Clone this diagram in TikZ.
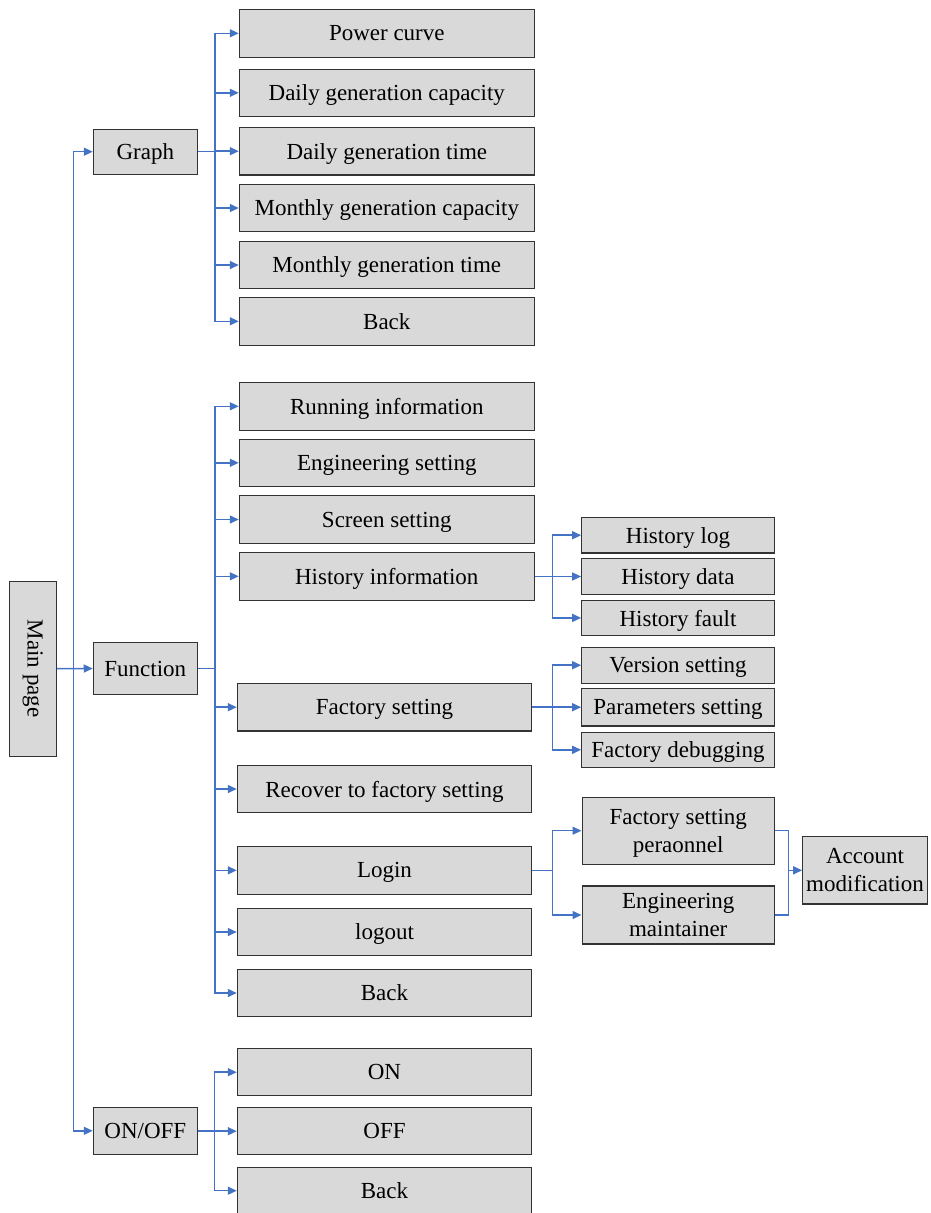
\documentclass[tikz,border=0pt]{standalone}
\usepackage{fontspec}
\setmainfont{Liberation Serif}
\usetikzlibrary{arrows.meta}
\definecolor{boxfill}{HTML}{D9D9D9}
\definecolor{boxdraw}{HTML}{333333}
\definecolor{linkblue}{HTML}{4472C4}
\newcommand\mybox[6]{\node[box, minimum width=#4pt, minimum height=#5pt] (#1) at (#2,#3) {#6};}
\begin{document}
\begin{tikzpicture}[x=1pt,y=-1pt,
  box/.style={draw=boxdraw, fill=boxfill, line width=1.1pt, inner sep=0pt, align=center, text depth=0pt, font=\fontsize{23}{28}\selectfont},
  link/.style={draw=linkblue, line width=1.5pt},
  arr/.style={link, -{Triangle[length=9pt,width=8pt]}}]
\useasboundingbox (0,0) rectangle (930,1213);
% main level
\mybox{mainpage}{32.7}{668.7}{47.3}{174.7}{}
\node[rotate=-90, font=\fontsize{23}{28}\selectfont] (maintext) at (mainpage.center) {Main page};
\mybox{graph}{145.3}{151.7}{104}{44.7}{Graph}
\mybox{function}{145.3}{668.5}{104}{51.6}{Function}
\mybox{onoff}{145.3}{1130.8}{104}{47}{ON/OFF}
% graph children
\mybox{pc}{386.8}{33.3}{295}{47.5}{Power curve}
\mybox{dgc}{386.8}{92.8}{295}{47.5}{Daily generation capacity}
\mybox{dgt}{386.8}{151.2}{295}{47.5}{Daily generation time}
\mybox{mgc}{386.8}{208}{295}{47.5}{Monthly generation capacity}
\mybox{mgt}{386.8}{265}{295}{47.5}{Monthly generation time}
\mybox{gback}{386.8}{321.3}{295}{47.5}{Back}
% function children
\mybox{ri}{386.8}{406.3}{295}{47.5}{Running information}
\mybox{es}{386.8}{462.8}{295}{47.5}{Engineering setting}
\mybox{ss}{386.8}{519.5}{295}{47.5}{Screen setting}
\mybox{hi}{386.8}{576.3}{295}{47.5}{History information}
\mybox{fs}{384.5}{707.2}{294.4}{47.5}{Factory setting}
\mybox{rf}{384.5}{789}{294.4}{47.5}{Recover to factory setting}
\mybox{login}{384.5}{870.3}{294.4}{47.5}{Login}
\mybox{logout}{384.5}{932}{294.4}{47.5}{logout}
\mybox{fback}{384.5}{993}{294.4}{47.5}{Back}
% on/off children
\mybox{on}{384.5}{1072.2}{294.4}{47}{ON}
\mybox{off}{384.5}{1131.2}{294.4}{47}{OFF}
\mybox{oback}{384.5}{1190.7}{294.4}{47}{Back}
% history subs
\mybox{hlog}{678}{535.2}{192.6}{35.5}{History log}
\mybox{hdata}{678}{576.5}{192.6}{35.5}{History data}
\mybox{hfault}{678}{617.9}{192.6}{35.5}{History fault}
\mybox{vs}{678}{665.2}{192.6}{35.7}{Version setting}
\mybox{ps}{678}{707.2}{192.6}{37.5}{Parameters setting}
\mybox{fd}{678}{749.8}{192.6}{35.5}{Factory debugging}
% login subs
\mybox{fsp}{678.2}{830.7}{192.3}{66.7}{Factory setting\\peraonnel}
\mybox{em}{678.2}{915}{192.3}{58}{Engineering\\maintainer}
\mybox{am}{865}{870.3}{124.6}{67.3}{Account\\modification}
% main connectors
\coordinate (mt) at (73.5,668.7);
\draw[arr] (mainpage.east) -- (function.west);
\draw[arr] (mt) |- (graph.west);
\draw[arr] (mt) |- (onoff.west);
% graph connectors
\coordinate (gt) at (215,151.7);
\draw[link] (graph.east) -- (gt);
\foreach \n in {pc,dgc,dgt,mgc,mgt,gback} \draw[arr] (gt) |- (\n.west);
% function connectors
\coordinate (ft) at (215,668.5);
\draw[link] (function.east) -- (ft);
\foreach \n in {ri,es,ss,hi,fs,rf,login,logout,fback} \draw[arr] (ft) |- (\n.west);
% on/off connectors
\coordinate (ot) at (214.5,1130.8);
\draw[link] (onoff.east) -- (ot);
\foreach \n in {on,off,oback} \draw[arr] (ot) |- (\n.west);
% history
\coordinate (ht) at (552.7,576.3);
\draw[link] (hi.east) -- (ht);
\foreach \n in {hlog,hdata,hfault} \draw[arr] (ht) |- (\n.west);
% factory
\coordinate (fst) at (552.7,707.2);
\draw[link] (fs.east) -- (fst);
\foreach \n in {vs,ps,fd} \draw[arr] (fst) |- (\n.west);
% login
\coordinate (lt) at (552.7,870.3);
\draw[link] (login.east) -- (lt);
\foreach \n in {fsp,em} \draw[arr] (lt) |- (\n.west);
% account
\coordinate (at) at (788.3,870.3);
\draw[link] (fsp.east) -| (at) |- (em.east);
\draw[arr] (at) -- (am.west);
\end{tikzpicture}
\end{document}
